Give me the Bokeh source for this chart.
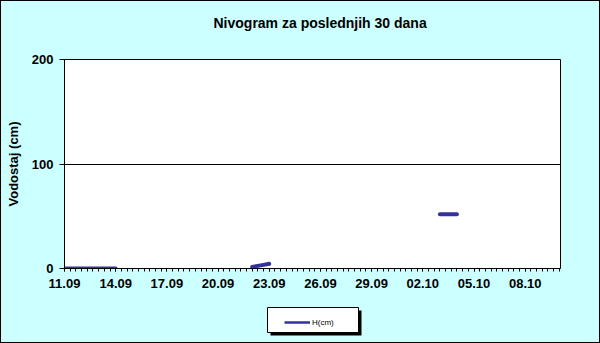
import numpy as np
import pandas as pd
from bokeh.plotting import figure
from bokeh.layouts import column
from bokeh.models import (FixedTicker, DatetimeTickFormatter, Legend, LegendItem, Range1d, Label)
from bokeh.embed import file_html
from bokeh.resources import INLINE

# ---- data ----
title_text = "Nivogram za poslednjih 30 dana"
y_label = "Vodostaj (cm)"
series_name = "H(cm)"
times = [
    "2024-09-11 00:00", "2024-09-11 08:00", "2024-09-11 16:00",
    "2024-09-12 00:00", "2024-09-12 08:00", "2024-09-12 16:00",
    "2024-09-13 00:00", "2024-09-13 08:00", "2024-09-13 16:00",
    "2024-09-14 00:00",
    "2024-09-18 00:00",
    "2024-09-22 00:00", "2024-09-22 08:00", "2024-09-22 16:00",
    "2024-09-23 00:00",
    "2024-09-28 00:00",
    "2024-10-03 00:00", "2024-10-03 08:00", "2024-10-03 16:00",
    "2024-10-04 00:00",
]
h_cm = [
    0, 0, 0, 0, 0, 0, 0, 0, 0, 0,
    np.nan,
    1.5, 2.5, 3.5, 4.5,
    np.nan,
    52, 52, 52, 52,
]
tick_dates = ["2024-09-11", "2024-09-14", "2024-09-17", "2024-09-20", "2024-09-23",
              "2024-09-26", "2024-09-29", "2024-10-02", "2024-10-05", "2024-10-08"]
y_ticks = [0, 100, 200]
x_start = "2024-09-11 00:00"
x_end = "2024-10-10 01:40"

x = pd.to_datetime(times)
to_ms = lambda s: pd.Timestamp(s).value / 1e6

BG = "#CCFFFF"
LINE = "#333399"
FONT = "Liberation Sans"


def strip(height, y_top, y_bottom):
    """A bare strip whose data coordinates equal page pixels."""
    s = figure(width=598, height=height, output_backend="svg", toolbar_location=None,
               x_range=Range1d(1, 599), y_range=Range1d(y_bottom, y_top),
               min_border=0, min_border_left=0, min_border_right=0,
               min_border_top=0, min_border_bottom=0)
    s.frame_align = False
    s.axis.visible = False
    s.grid.visible = False
    s.outline_line_color = None
    s.border_fill_color = BG
    s.background_fill_color = BG
    return s


# ---------------- title strip ----------------
top = strip(40, 1, 41)
top.add_layout(Label(x=213, y=22, text=title_text, text_font=FONT, text_font_style="bold",
                     text_font_size="14px", text_color="black",
                     text_align="left", text_baseline="middle"))

# ---------------- main chart ----------------
p = figure(width=598, height=259, x_axis_type="datetime",
           output_backend="svg", toolbar_location=None,
           x_range=Range1d(to_ms(x_start), to_ms(x_end)),
           y_range=Range1d(0, 200),
           min_border_left=63, min_border_right=39,
           min_border_top=18, min_border_bottom=32)
p.frame_align = False
p.border_fill_color = BG
p.background_fill_color = "white"
p.outline_line_color = "black"
p.outline_line_width = 1

r = p.line(x, h_cm, line_color=LINE, line_width=4, line_cap="round")

minor = [t.value / 1e6 for t in pd.date_range(x_start, "2024-10-10 00:00", freq="8h")]
p.xaxis.ticker = FixedTicker(ticks=[to_ms(d) for d in tick_dates], minor_ticks=minor)
p.xaxis.formatter = DatetimeTickFormatter(days="%d.%m", months="%d.%m", hours="%d.%m")
p.yaxis.ticker = FixedTicker(ticks=y_ticks)
for ax in (p.xaxis, p.yaxis):
    ax.axis_line_color = "black"
    ax.axis_line_width = 1
    ax.major_tick_line_color = "black"
    ax.minor_tick_line_color = "black"
    ax.major_tick_in = 0
    ax.minor_tick_in = 0
    ax.major_label_text_font = FONT
    ax.major_label_text_font_style = "bold"
    ax.major_label_text_font_size = "13px"
    ax.major_label_text_color = "black"
p.xaxis.major_tick_out = 3
p.xaxis.minor_tick_out = 3
p.xaxis.major_label_standoff = 7
p.yaxis.major_tick_out = 5
p.yaxis.minor_tick_out = 0
p.yaxis.major_label_standoff = 6
p.yaxis.axis_label = y_label
p.yaxis.axis_label_text_font = FONT
p.yaxis.axis_label_text_font_style = "bold"
p.yaxis.axis_label_text_font_size = "13px"
p.yaxis.axis_label_text_color = "black"
p.yaxis.axis_label_standoff = 8

p.xgrid.grid_line_color = None
p.ygrid.ticker = FixedTicker(ticks=y_ticks)
p.ygrid.grid_line_color = "black"
p.ygrid.grid_line_width = 1

# ---------------- legend strip ----------------
lg = strip(42, 300, 342)
lg.quad(left=[270], right=[361], top=[310], bottom=[335], fill_color="black", line_color=None)
lg.quad(left=[267], right=[358], top=[307], bottom=[332], fill_color="white",
        line_color="black", line_width=1)
r2 = lg.line(x, h_cm, line_color=LINE, line_width=2.5)
leg = Legend(items=[LegendItem(label=series_name, renderers=[r2])],
             location=(279, 10), margin=0, padding=4,
             glyph_width=26, glyph_height=12, label_standoff=2,
             label_text_font=FONT, label_text_font_size="8px", label_text_color="black",
             border_line_alpha=0, background_fill_alpha=0)
lg.add_layout(leg, "center")

layout = column(top, p, lg, spacing=0,
                styles={"border": "1px solid black", "background-color": BG})

open("out.html", "w").write(file_html(layout, INLINE))
